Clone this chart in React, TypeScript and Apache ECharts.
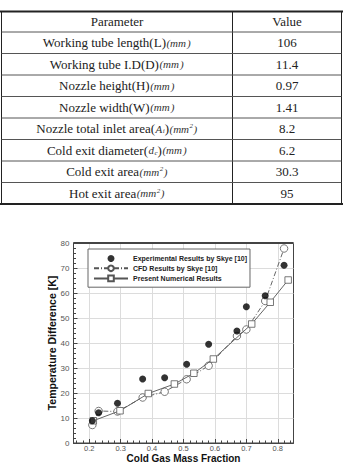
import React, { useEffect, useRef } from "react";
import * as echarts from "echarts";

// ---- Table data ----
const tableHeader = ["Parameter", "Value"];
const paramNames = [
  "Working tube length(L)",
  "Working tube I.D(D)",
  "Nozzle height(H)",
  "Nozzle width(W)",
  "Nozzle total inlet area",
  "Cold exit diameter",
  "Cold exit area",
  "Hot exit area",
];
const paramSymbols = ["", "", "", "", "A,i", "d,c", "", ""];
const paramUnitPower = ["", "", "", "", "2", "", "2", "2"];
const paramValues = ["106", "11.4", "0.97", "1.41", "8.2", "6.2", "30.3", "95"];

// ---- Chart data ----
const seriesNames = [
  "Experimental Results by Skye [10]",
  "CFD Results by Skye [10]",
  "Present Numerical Results",
];
const expX = [0.21, 0.23, 0.29, 0.37, 0.44, 0.51, 0.58, 0.67, 0.70, 0.76, 0.82];
const expY = [8.9, 12.1, 15.9, 25.6, 26.1, 31.5, 39.5, 44.8, 54.5, 58.9, 71.1];
const cfdX = [0.21, 0.23, 0.29, 0.37, 0.44, 0.51, 0.58, 0.67, 0.70, 0.76, 0.82];
const cfdY = [7.2, 12.8, 12.6, 18.2, 20.5, 25.5, 30.9, 42.8, 45.4, 56.8, 77.8];
const numX = [0.213, 0.298, 0.388, 0.471, 0.533, 0.595, 0.717, 0.776, 0.833];
const numY = [8.9, 12.9, 19.8, 23.6, 27.9, 33.6, 47.6, 56.3, 65.2];
const xTickLabels = [0.2, 0.3, 0.4, 0.5, 0.6, 0.7, 0.8];
const xMinorTicks = [
  0.16, 0.18, 0.22, 0.24, 0.26, 0.28, 0.32, 0.34, 0.36, 0.38, 0.42, 0.44, 0.46, 0.48,
  0.52, 0.54, 0.56, 0.58, 0.62, 0.64, 0.66, 0.68, 0.72, 0.74, 0.76, 0.78, 0.82, 0.84,
];

function zip(xs: number[], ys: number[]) {
  return xs.map((x, i) => [x, ys[i]]);
}

function paramRich(i: number) {
  let s = paramNames[i];
  const sym = paramSymbols[i];
  if (sym) {
    const [a, b] = sym.split(",");
    s += "({it|" + a + "}{sub|" + b + "})";
  }
  s += "{it|(mm}";
  if (paramUnitPower[i]) s += "{sup|" + paramUnitPower[i] + "}";
  s += "{it|)}";
  return s;
}

export default function App() {
  const ref = useRef<HTMLDivElement>(null);
  useEffect(() => {
    document.body.style.margin = "0";
    const chart = echarts.init(ref.current!, null, { renderer: "svg" });

    const tableTop = 11.5;
    const headerBottom = 32;
    const rowH = 21.5;
    const left = 1.5;
    const right = 341.5;
    const colX = 232.5;
    const c1 = (left + colX) / 2;
    const c2 = (colX + right) / 2;
    const nRows = paramNames.length;
    const tableBottom = headerBottom + rowH * nRows;

    const rich = {
      it: { fontFamily: "Liberation Serif", fontStyle: "italic", fontSize: 11, fill: "#333", lineHeight: 14, verticalAlign: "middle", padding: [0, 0.5, 0, 0.5] },
      sup: { fontFamily: "Liberation Serif", fontStyle: "italic", fontSize: 7, fill: "#333", lineHeight: 8, verticalAlign: "middle", padding: [0, 0, 5, 0] },
      sub: { fontFamily: "Liberation Serif", fontStyle: "italic", fontSize: 7, fill: "#333", lineHeight: 8, verticalAlign: "middle", padding: [5, 0, 0, 0] },
    };
    const baseText = { fontFamily: "Liberation Serif", fontSize: 13, fill: "#222", align: "center", verticalAlign: "middle" };

    const g: any[] = [];
    const line = (x1: number, y1: number, x2: number, y2: number, w: number, c: string) =>
      g.push({ type: "line", silent: true, shape: { x1, y1, x2, y2 }, style: { stroke: c, lineWidth: w } });
    line(0, tableTop, 343, tableTop, 2.2, "#222");
    line(0, tableBottom, 343, tableBottom, 2.2, "#222");
    line(left, tableTop, left, tableBottom, 1, "#222");
    line(right, tableTop, right, tableBottom, 1, "#222");
    line(colX, tableTop, colX, tableBottom, 1, "#222");
    for (let k = 0; k < nRows; k++) {
      line(left, headerBottom + rowH * k, right, headerBottom + rowH * k, 1, "#555");
    }
    g.push({ type: "text", x: c1, y: (tableTop + headerBottom) / 2, style: { ...baseText, text: tableHeader[0] } });
    g.push({ type: "text", x: c2, y: (tableTop + headerBottom) / 2, style: { ...baseText, text: tableHeader[1] } });
    for (let k = 0; k < nRows; k++) {
      const cy = headerBottom + rowH * (k + 0.5);
      g.push({ type: "text", x: c1, y: cy, style: { ...baseText, text: paramRich(k), rich, lineHeight: 14 } });
      g.push({ type: "text", x: c2, y: cy, style: { ...baseText, text: paramValues[k] } });
    }
    // thicker top frame of plot
    g.push({ type: "line", silent: true, z: 10, shape: { x1: 73.5, y1: 243, x2: 293.5, y2: 243 }, style: { stroke: "#444", lineWidth: 2 } });

    const axisFont = "Liberation Sans";
    chart.setOption({
      animation: false,
      textStyle: { fontFamily: axisFont },
      grid: { left: 73.5, right: 49.5, top: 243, bottom: 24, show: true, borderColor: "#444", borderWidth: 1, containLabel: false },
      legend: {
        orient: "vertical",
        left: 88,
        top: 249,
        data: seriesNames,
        itemWidth: 34,
        itemHeight: 7,
        itemGap: 2.5,
        padding: [6, 3, 5, 5],
        backgroundColor: "#fff",
        borderColor: "#666",
        borderWidth: 1,
        borderRadius: 0,
        textStyle: { fontFamily: axisFont, fontWeight: "bold", fontSize: 7, color: "#222", padding: [0, 0, 0, 0] },
        z: 20,
      },
      xAxis: [
        {
          type: "value",
          min: 0.15,
          max: 0.85,
          splitNumber: 7,
          name: "Cold Gas Mass Fraction",
          nameLocation: "middle",
          nameGap: 10.5,
          nameMoveOverlap: false,
          nameTextStyle: { fontWeight: "bold", fontSize: 10, lineHeight: 10, color: "#111", fontFamily: axisFont },
          axisLine: { show: true, onZero: false, lineStyle: { color: "#444", width: 1 } },
          axisTick: { show: true, inside: true, length: 4, customValues: xTickLabels, lineStyle: { color: "#444" } },
          axisLabel: { fontSize: 7.5, lineHeight: 8, color: "#555", margin: 1.5, customValues: xTickLabels, formatter: (v: number) => v.toFixed(1) },
          splitLine: { show: true, lineStyle: { color: "#dcdcdc", width: 1 } },
        },
        {
          type: "value",
          min: 0.15,
          max: 0.85,
          position: "bottom",
          gridIndex: 0,
          axisLine: { show: false },
          axisTick: { show: true, inside: true, length: 2.5, customValues: xMinorTicks, lineStyle: { color: "#444" } },
          axisLabel: { show: false },
          splitLine: { show: false },
        },
      ],
      yAxis: {
        type: "value",
        min: 0,
        max: 80,
        interval: 10,
        name: "Temperature Difference [K]",
        nameLocation: "middle",
        nameGap: 16,
        nameMoveOverlap: false,
        nameTextStyle: { fontWeight: "bold", fontSize: 10.5, color: "#111", fontFamily: axisFont },
        axisLine: { show: true, onZero: false, lineStyle: { color: "#444", width: 1 } },
        axisTick: { show: true, inside: true, length: 4, lineStyle: { color: "#444" } },
        minorTick: { show: true, splitNumber: 5, length: 2.5, lineStyle: { color: "#444" } },
        axisLabel: { fontSize: 8, color: "#555", margin: 4 },
        splitLine: { show: true, lineStyle: { color: "#dcdcdc", width: 1 } },
      },
      graphic: g,
      series: [
        {
          name: seriesNames[0],
          type: "scatter",
          symbol: "circle",
          symbolSize: 7,
          itemStyle: { color: "#000" },
          data: zip(expX, expY),
          z: 5,
        },
        {
          name: seriesNames[1],
          type: "line",
          symbol: "circle",
          symbolSize: 7.5,
          itemStyle: { color: "#fff", borderColor: "#555", borderWidth: 0.8 },
          lineStyle: { color: "#555", width: 0.9, type: [5, 2, 1, 2] },
          data: zip(cfdX, cfdY),
          z: 3,
        },
        {
          name: seriesNames[2],
          type: "line",
          symbol: "rect",
          symbolSize: 6.5,
          itemStyle: { color: "#fff", borderColor: "#555", borderWidth: 0.8 },
          lineStyle: { color: "#555", width: 0.9 },
          data: zip(numX, numY),
          z: 4,
        },
      ],
    });
    return () => chart.dispose();
  }, []);
  return <div ref={ref} style={{ width: 343, height: 467 }} />;
}
